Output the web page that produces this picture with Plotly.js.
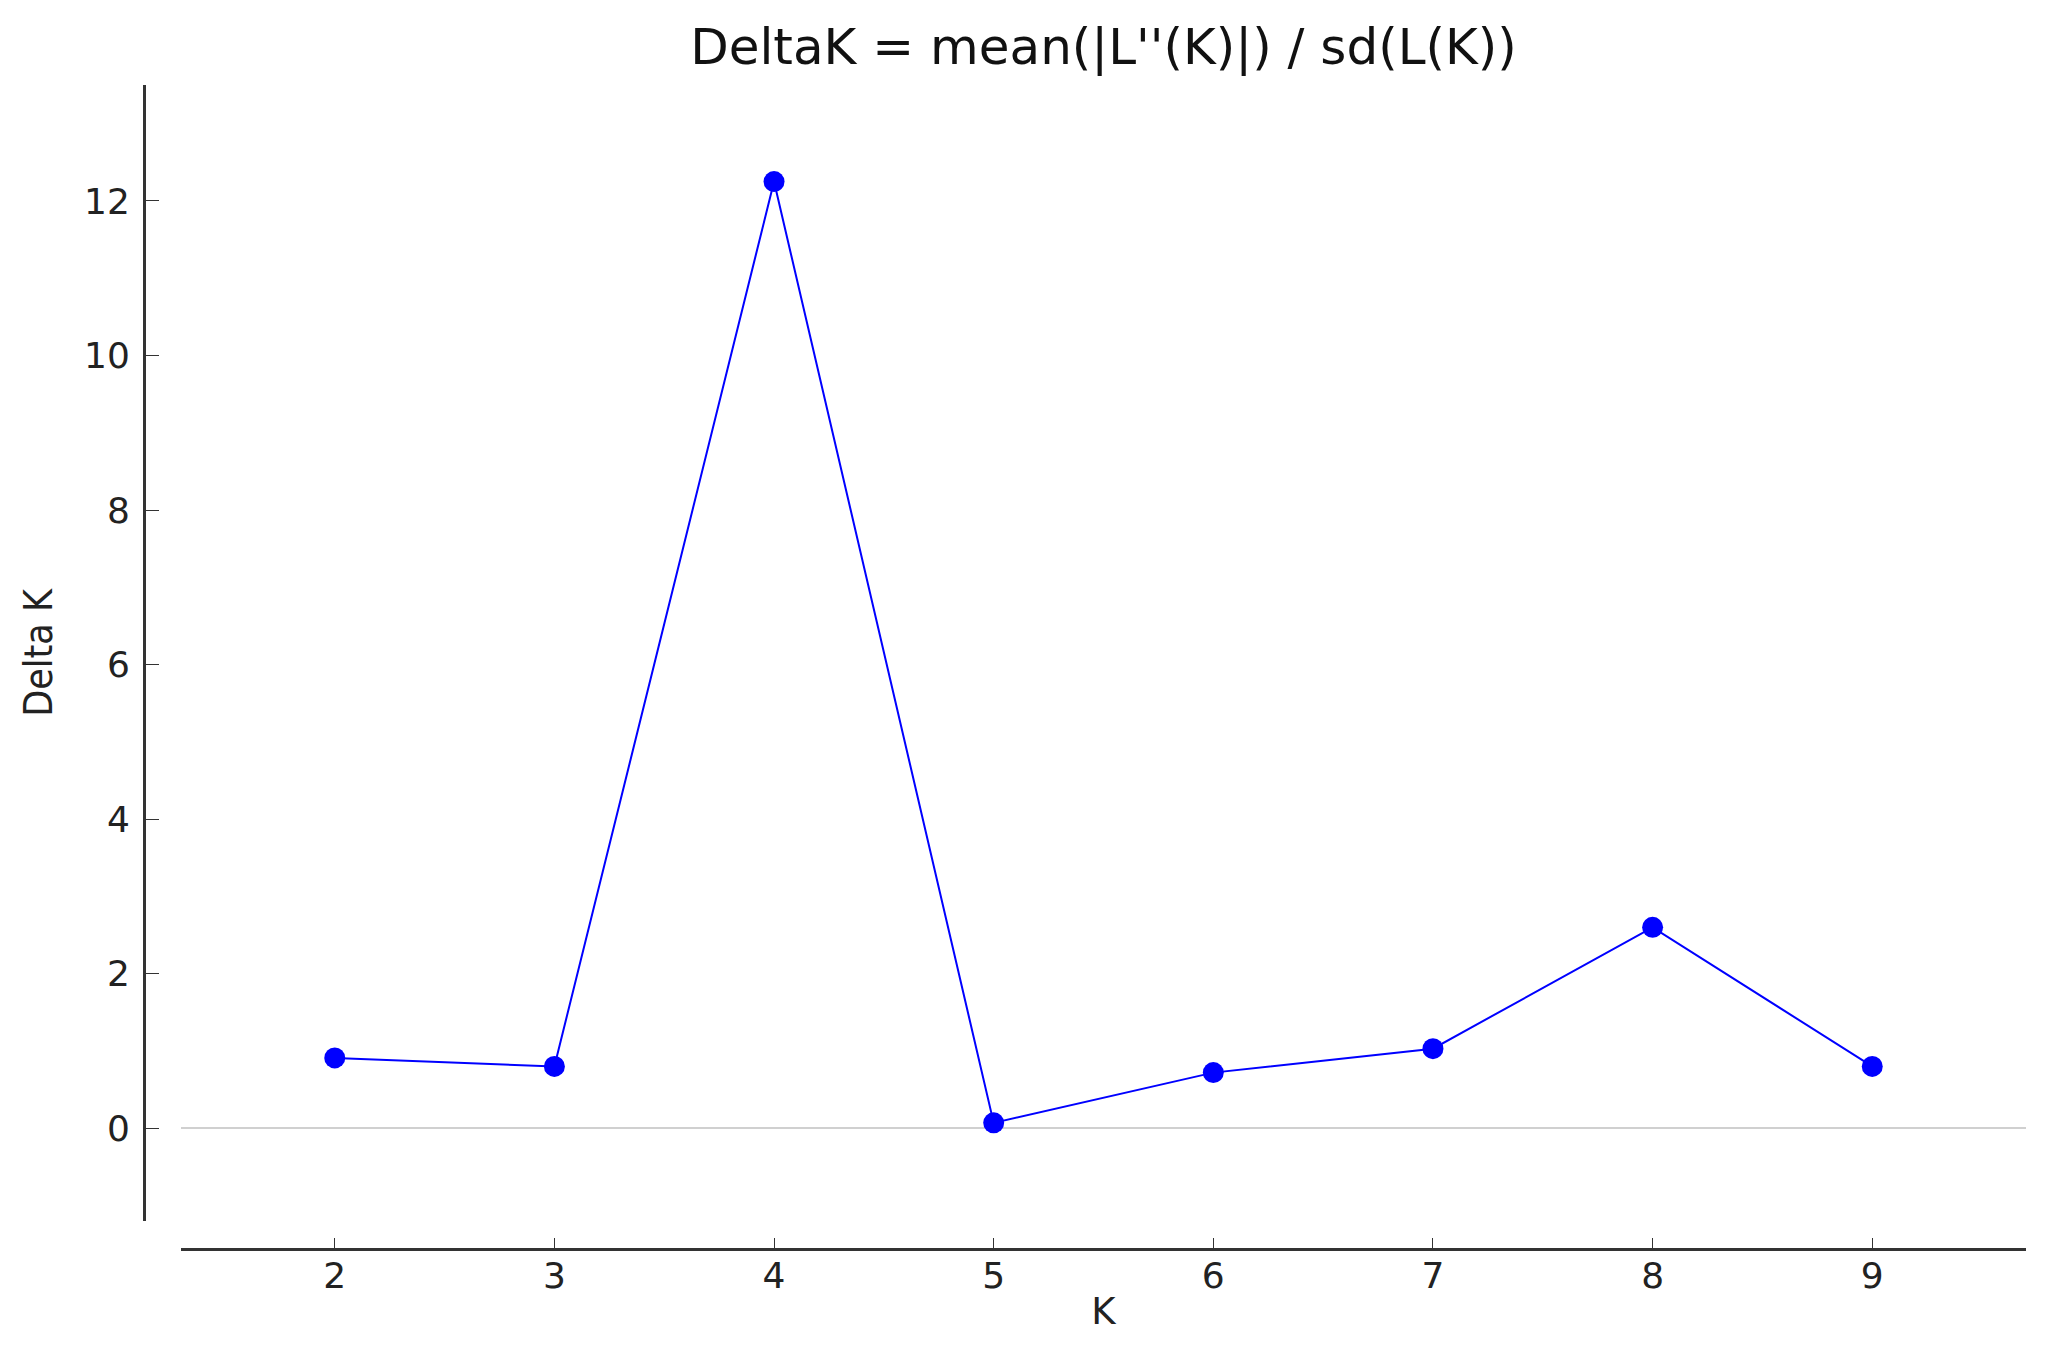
<!DOCTYPE html>
<html>
<head>
<meta charset="utf-8">
<script src="https://cdn.plot.ly/plotly-3.0.1.min.js"></script>
<style>html,body{margin:0;padding:0;background:#fff;}#chart{width:2059px;height:1351px;}</style>
</head>
<body>
<div id="chart"></div>
<script>
const kValues = [2, 3, 4, 5, 6, 7, 8, 9];
const deltaK = [0.91, 0.80, 12.25, 0.07, 0.72, 1.03, 2.60, 0.80];
const xTickVals = [2, 3, 4, 5, 6, 7, 8, 9];
const yTickVals = [0, 2, 4, 6, 8, 10, 12];
const titleText = "DeltaK = mean(|L''(K)|) / sd(L(K))";
const xTitle = "K";
const yTitle = "Delta K";

const W = 2059, H = 1351;
const L = 144, R = 33, T = 85, B = 102;
const pw = W - L - R, ph = H - T - B;

const trace = {
  x: kValues, y: deltaK, type: 'scatter', mode: 'lines+markers',
  line: {color: '#0000ff', width: 2},
  marker: {color: '#0000ff', size: 21},
  cliponaxis: false, hoverinfo: 'x+y'
};

const layout = {
  width: W, height: H,
  margin: {l: L, r: R, t: T, b: B},
  paper_bgcolor: '#ffffff', plot_bgcolor: '#ffffff',
  showlegend: false,
  font: {family: 'DejaVu Sans, sans-serif', color: '#222'},
  title: {
    text: titleText,
    font: {family: 'DejaVu Sans, sans-serif', size: 50, color: '#111'},
    x: (181 + 2026) / 2 / W, xanchor: 'center', xref: 'container',
    y: 1 - 46 / H, yanchor: 'middle', yref: 'container'
  },
  xaxis: {
    domain: [37 / pw, 1], range: [1.3, 9.7],
    anchor: 'free', position: 0,
    showline: true, linecolor: '#333', linewidth: 3,
    ticks: 'inside', ticklen: 10, tickwidth: 1, tickcolor: '#333',
    tickvals: xTickVals, ticktext: xTickVals.map(String),
    tickfont: {family: 'DejaVu Sans, sans-serif', size: 36, color: '#222'},
    ticklabelstandoff: -6,
    showgrid: false, zeroline: false,
    title: {text: xTitle, standoff: 2, font: {family: 'DejaVu Sans, sans-serif', size: 37, color: '#222'}}
  },
  yaxis: {
    domain: [28 / ph, 1], range: [-1.2, 13.5],
    anchor: 'free', position: 0,
    showline: true, linecolor: '#333', linewidth: 3,
    ticks: 'inside', ticklen: 13, tickwidth: 1, tickcolor: '#333',
    tickvals: yTickVals, ticktext: yTickVals.map(String),
    tickfont: {family: 'DejaVu Sans, sans-serif', size: 36, color: '#222'},
    ticklabelstandoff: 6,
    showgrid: false,
    zeroline: true, zerolinecolor: '#d0d0d0', zerolinewidth: 2,
    title: {text: yTitle, standoff: 18, font: {family: 'DejaVu Sans Condensed, DejaVu Sans, sans-serif', size: 39, color: '#222'}}
  }
};

Plotly.newPlot('chart', [trace], layout, {displayModeBar: false, staticPlot: true});
</script>
</body>
</html>
